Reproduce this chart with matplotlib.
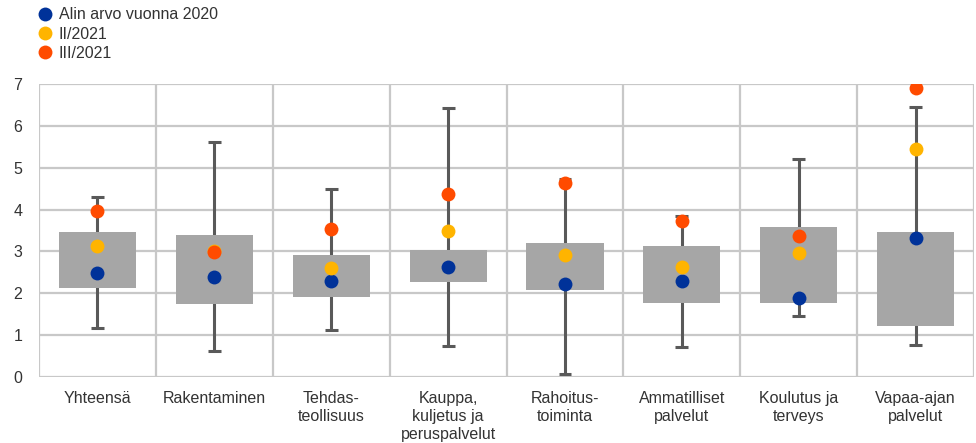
import matplotlib
matplotlib.use("Agg")
import matplotlib.pyplot as plt
from matplotlib.lines import Line2D

plt.rcParams["font.family"] = ["Liberation Sans", "DejaVu Sans"]

categories = ["Yhteensä", "Rakentaminen", "Tehdas-\nteollisuus",
              "Kauppa,\nkuljetus ja\nperuspalvelut", "Rahoitus-\ntoiminta",
              "Ammatilliset\npalvelut", "Koulutus ja\nterveys", "Vapaa-ajan\npalvelut"]

box_low = [2.12, 1.74, 1.92, 2.27, 2.08, 1.78, 1.78, 1.23]
box_high = [3.46, 3.39, 2.91, 3.03, 3.21, 3.12, 3.58, 3.46]
whisker_low = [1.16, 0.61, 1.12, 0.73, 0.06, 0.71, 1.47, 0.76]
whisker_high = [4.31, 5.61, 4.49, 6.43, 4.73, 3.86, 5.20, 6.46]

lowest_2020 = [2.48, 2.38, 2.29, 2.63, 2.23, 2.29, 1.89, 3.33]
q2_2021 = [3.13, 3.00, 2.60, 3.48, 2.91, 2.63, 2.97, 5.45]
q3_2021 = [3.97, 2.99, 3.54, 4.37, 4.63, 3.73, 3.37, 6.92]

series_labels = ["Alin arvo vuonna 2020", "II/2021", "III/2021"]
series_colors = ["#003299", "#ffb400", "#ff4b00"]

fs = 11.5
fig = plt.figure(figsize=(9.76, 4.43), dpi=100)
ax = fig.add_axes([0.040, 0.149, 0.958, 0.661])

x = list(range(len(categories)))
ax.set_xlim(-0.5, len(categories) - 0.5)
ax.set_ylim(0, 7)

grid_color = "#c8c8c8"
for k in range(len(categories) + 1):
    ax.axvline(k - 0.5, color=grid_color, lw=1.6, zorder=1)
for yv in range(0, 8):
    ax.axhline(yv, color=grid_color, lw=1.6, zorder=1)

# whiskers with caps
whisk_color = "#595959"
ax.vlines(x, whisker_low, whisker_high, color=whisk_color, lw=2.2, zorder=2)
ax.hlines(whisker_low, [v - 0.055 for v in x], [v + 0.055 for v in x],
          color=whisk_color, lw=2.2, zorder=2)
ax.hlines(whisker_high, [v - 0.055 for v in x], [v + 0.055 for v in x],
          color=whisk_color, lw=2.2, zorder=2)

# boxes
heights = [h - l for l, h in zip(box_low, box_high)]
ax.bar(x, heights, bottom=box_low, width=0.66, color="#a6a6a6", zorder=3)

# points
for vals, col in zip([lowest_2020, q2_2021, q3_2021], series_colors):
    ax.plot(x, vals, "o", color=col, markersize=10, markeredgewidth=0, zorder=4)

for s in ax.spines.values():
    s.set_visible(False)

ax.set_yticks(range(0, 8))
ax.set_yticklabels([str(v) for v in range(0, 8)])
ax.set_xticks(x)
ax.set_xticklabels(categories, linespacing=1.25, va="top")
ax.tick_params(axis="both", length=0, labelsize=fs, colors="#333333")
ax.tick_params(axis="x", pad=10)
ax.tick_params(axis="y", pad=12)

handles = [Line2D([], [], marker="o", ls="", color=c, markersize=10, markeredgewidth=0)
           for c in series_colors]
fig.legend(handles, series_labels, loc="upper left", bbox_to_anchor=(0.033, 0.998),
           frameon=False, fontsize=fs, handlelength=0.8, handletextpad=0.45,
           labelspacing=0.27, borderaxespad=0, labelcolor="#333333")

fig.savefig("out.png", dpi=100)
